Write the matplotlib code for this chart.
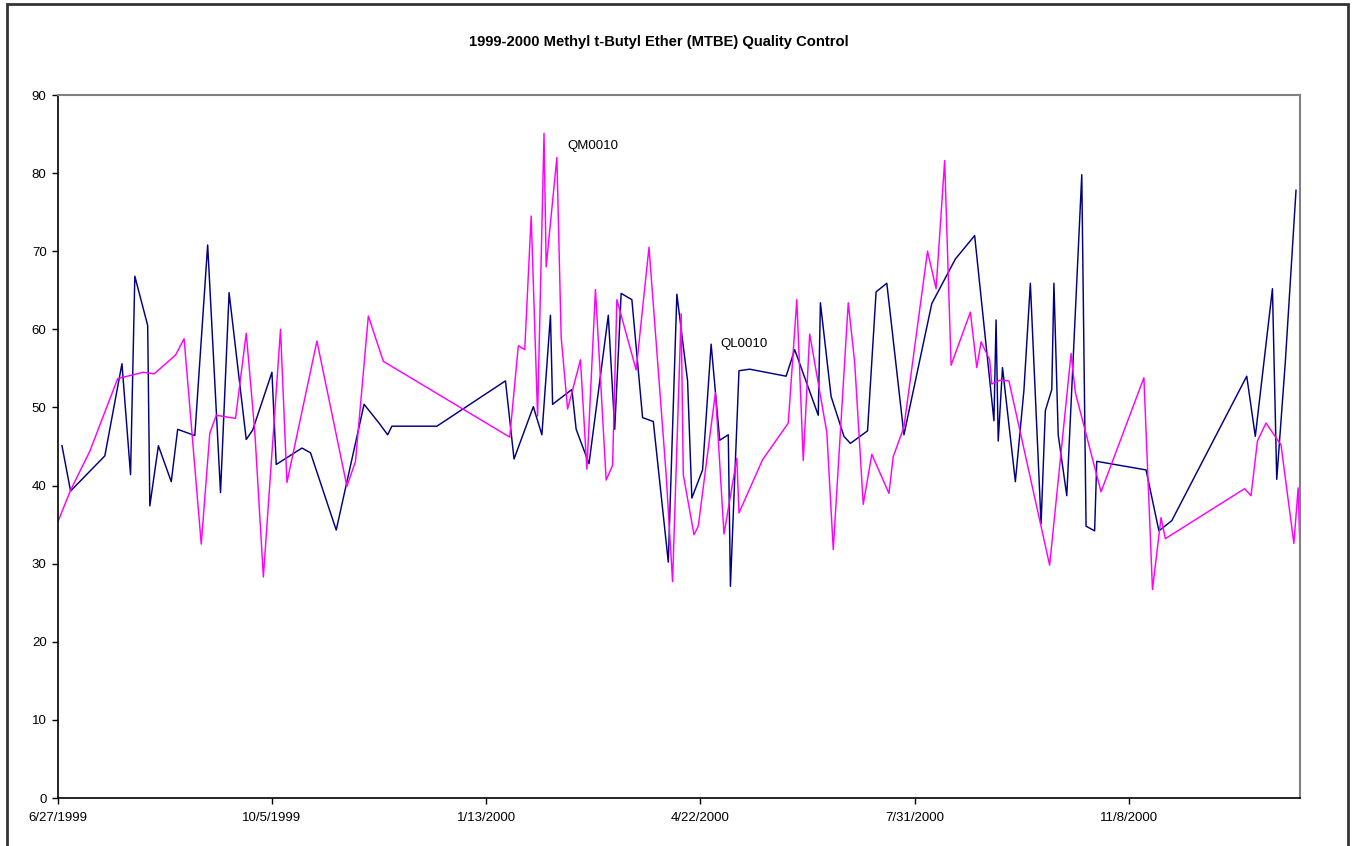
import matplotlib
matplotlib.use('Agg')
import matplotlib.pyplot as plt
import matplotlib.dates as mdates
import matplotlib.ticker as mticker
from matplotlib.patches import Rectangle
import pandas as pd

plt.rcParams['font.family'] = ['Liberation Sans', 'DejaVu Sans']

# QL0010 control sample results (navy)
ql_dates = ['1999-06-29', '1999-07-03', '1999-07-19', '1999-07-27', '1999-07-31', '1999-08-02',
            '1999-08-08', '1999-08-09', '1999-08-13', '1999-08-19', '1999-08-22', '1999-08-30',
            '1999-09-05', '1999-09-11', '1999-09-15', '1999-09-23', '1999-09-26', '1999-10-05',
            '1999-10-07', '1999-10-19', '1999-10-23', '1999-11-04', '1999-11-17', '1999-11-24',
            '1999-11-28', '1999-11-30', '1999-12-21', '2000-01-22', '2000-01-26', '2000-02-04',
            '2000-02-08', '2000-02-12', '2000-02-13', '2000-02-22', '2000-02-24', '2000-03-01',
            '2000-03-10', '2000-03-13', '2000-03-16', '2000-03-21', '2000-03-26', '2000-03-31',
            '2000-04-07', '2000-04-11', '2000-04-16', '2000-04-18', '2000-04-23', '2000-04-27',
            '2000-05-01', '2000-05-05', '2000-05-06', '2000-05-10', '2000-05-15', '2000-06-01',
            '2000-06-05', '2000-06-16', '2000-06-17', '2000-06-22', '2000-06-28', '2000-07-01',
            '2000-07-09', '2000-07-13', '2000-07-18', '2000-07-26', '2000-08-08', '2000-08-19',
            '2000-08-28', '2000-09-06', '2000-09-07', '2000-09-08', '2000-09-10', '2000-09-16',
            '2000-09-20', '2000-09-23', '2000-09-28', '2000-09-30', '2000-10-03', '2000-10-04',
            '2000-10-06', '2000-10-10', '2000-10-17', '2000-10-19', '2000-10-23', '2000-10-24',
            '2000-11-16', '2000-11-22', '2000-11-28', '2001-01-02', '2001-01-06', '2001-01-14',
            '2001-01-16', '2001-01-20', '2001-01-25']
ql_values = [45.1, 39.3, 43.8, 55.6, 41.4, 66.8,
             60.5, 37.4, 45.1, 40.5, 47.2, 46.4,
             70.8, 39.1, 64.7, 45.9, 47.1, 54.5,
             42.7, 44.8, 44.2, 34.3, 50.4, 48.0,
             46.5, 47.6, 47.6, 53.4, 43.4, 50.1,
             46.5, 61.8, 50.4, 52.3, 47.2, 42.8,
             61.8, 47.2, 64.6, 63.8, 48.7, 48.2,
             30.2, 64.5, 53.4, 38.4, 42.0, 58.1,
             45.8, 46.5, 27.1, 54.7, 54.9, 54.0,
             57.4, 49.0, 63.4, 51.4, 46.3, 45.4,
             47.0, 64.8, 65.9, 46.5, 63.3, 69.0,
             72.0, 48.3, 61.2, 45.7, 55.1, 40.5,
             52.2, 65.9, 35.1, 49.6, 52.3, 65.9,
             46.5, 38.7, 79.8, 34.8, 34.2, 43.1,
             42.0, 34.2, 35.5, 54.0, 46.3, 65.2,
             40.8, 55.8, 77.8]

# QM0010 control sample results (magenta)
qm_dates = ['1999-06-27', '1999-07-03', '1999-07-12', '1999-07-25', '1999-08-06', '1999-08-11',
            '1999-08-21', '1999-08-25', '1999-09-02', '1999-09-06', '1999-09-09', '1999-09-18',
            '1999-09-23', '1999-09-27', '1999-10-01', '1999-10-09', '1999-10-12', '1999-10-26',
            '1999-11-09', '1999-11-13', '1999-11-19', '1999-11-26', '2000-01-24', '2000-01-28',
            '2000-01-31', '2000-02-03', '2000-02-06', '2000-02-09', '2000-02-10', '2000-02-15',
            '2000-02-17', '2000-02-20', '2000-02-26', '2000-02-29', '2000-03-04', '2000-03-09',
            '2000-03-12', '2000-03-14', '2000-03-23', '2000-03-29', '2000-04-06', '2000-04-09',
            '2000-04-13', '2000-04-14', '2000-04-19', '2000-04-21', '2000-04-29', '2000-05-03',
            '2000-05-09', '2000-05-10', '2000-05-21', '2000-06-02', '2000-06-06', '2000-06-09',
            '2000-06-12', '2000-06-20', '2000-06-23', '2000-06-30', '2000-07-03', '2000-07-07',
            '2000-07-11', '2000-07-19', '2000-07-21', '2000-07-26', '2000-08-06', '2000-08-10',
            '2000-08-14', '2000-08-17', '2000-08-26', '2000-08-29', '2000-08-31', '2000-09-04',
            '2000-09-05', '2000-09-09', '2000-09-13', '2000-10-02', '2000-10-12', '2000-10-14',
            '2000-10-26', '2000-11-15', '2000-11-19', '2000-11-23', '2000-11-25', '2001-01-01',
            '2001-01-04', '2001-01-07', '2001-01-11', '2001-01-18', '2001-01-24', '2001-01-26',
            '2001-01-27']
qm_values = [35.3, 39.4, 44.4, 53.7, 54.5, 54.3,
             56.7, 58.8, 32.5, 46.7, 49.0, 48.6,
             59.5, 46.9, 28.3, 60.0, 40.4, 58.5,
             39.9, 43.1, 61.7, 55.9, 46.2, 57.9,
             57.4, 74.5, 48.9, 85.1, 68.0, 82.0,
             59.0, 49.8, 56.1, 42.1, 65.1, 40.7,
             42.6, 63.8, 54.8, 70.5, 41.4, 27.7,
             62.0, 41.4, 33.7, 34.8, 51.9, 33.8,
             43.5, 36.5, 43.3, 48.0, 63.8, 43.2,
             59.4, 46.8, 31.8, 63.4, 55.8, 37.6,
             44.0, 39.0, 43.7, 47.5, 70.0, 65.2,
             81.6, 55.4, 62.2, 55.1, 58.4, 56.1,
             53.0, 53.5, 53.4, 29.8, 56.9, 51.9,
             39.2, 53.8, 26.7, 35.9, 33.2, 39.6,
             38.7, 45.7, 48.0, 45.2, 32.6, 39.7,
             30.5]

# sample IDs shown next to a point of each series
ql_label = ('QL0010', '2000-04-27', 58.1)
qm_label = ('QM0010', '2000-02-09', 85.1)

x_start = pd.Timestamp('1999-06-27')
x_end = pd.Timestamp('2001-01-27')
y_ticks = list(range(0, 100, 10))

ql_x = pd.to_datetime(ql_dates)
qm_x = pd.to_datetime(qm_dates)

fig = plt.figure(figsize=(13.54, 8.46), dpi=100)
ax = fig.add_axes([57.7 / 1354, 48 / 846, 1242.6 / 1354, 703 / 846])

ax.plot(ql_x, ql_values, color='#000080', lw=1.05)
ax.plot(qm_x, qm_values, color='#FF00FF', lw=1.05)

ax.annotate(qm_label[0], xy=(pd.Timestamp(qm_label[1]), qm_label[2]), xytext=(16.5, -9),
            textcoords='offset points', ha='left', va='center', fontsize=9.5)
ax.annotate(ql_label[0], xy=(pd.Timestamp(ql_label[1]), ql_label[2]), xytext=(6.5, 0),
            textcoords='offset points', ha='left', va='center', fontsize=9.5)

ax.set_xlim(x_start, x_end)
ax.set_ylim(0, 90)
ax.set_yticks(y_ticks)
ax.xaxis.set_major_locator(mticker.FixedLocator(
    mdates.date2num(pd.date_range(x_start, x_end, freq='100D'))))


def fmt_date(x, pos):
    d = mdates.num2date(x)
    return f'{d.month}/{d.day}/{d.year}'


ax.xaxis.set_major_formatter(mticker.FuncFormatter(fmt_date))
ax.tick_params(direction='out', length=4, width=1, labelsize=9.5, color='black')
ax.tick_params(axis='x', pad=6)
ax.tick_params(axis='y', pad=4)

for side in ['top', 'right']:
    ax.spines[side].set_color('#808080')
    ax.spines[side].set_linewidth(1.5)
for side in ['left', 'bottom']:
    ax.spines[side].set_color('black')
    ax.spines[side].set_linewidth(1.2)

fig.text(659 / 1354, 1 - 42 / 846,
         '1999-2000 Methyl t-Butyl Ether (MTBE) Quality Control',
         ha='center', va='center', fontsize=10.6, fontweight='bold')

# outer chart border
fig.patches.append(Rectangle((7 / 1354, -0.01), 1341 / 1354, 1.01 - 4 / 846,
                             transform=fig.transFigure, fill=False,
                             edgecolor='#333333', linewidth=2))

fig.savefig('out.png', dpi=100)
